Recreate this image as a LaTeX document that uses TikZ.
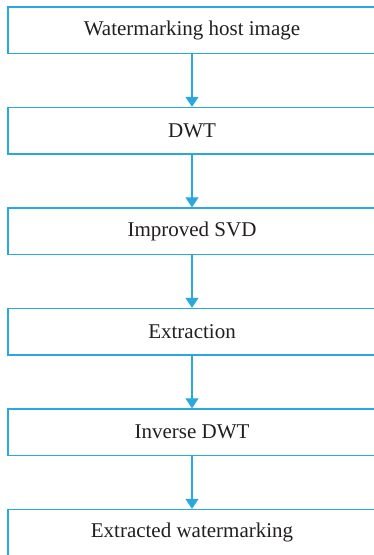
\documentclass[tikz,border=0pt]{standalone}
\usepackage{fontspec}
\setmainfont{Liberation Serif}
\usetikzlibrary{arrows.meta}

\definecolor{flowblue}{RGB}{41,168,224}
\definecolor{flowtext}{RGB}{35,31,32}

\begin{document}
\begin{tikzpicture}[x=1pt,y=-1pt,
    stage/.style={draw=flowblue,line width=1.4pt,fill=white,text=flowtext,
      minimum width=368pt,minimum height=46.5pt,inner sep=0pt,
      font=\fontsize{21}{25}\selectfont},
    flow/.style={draw=flowblue,line width=1.3pt,-{Triangle[width=13pt,length=10pt]}}]
      \useasboundingbox (0,0) rectangle (374,555);
      \draw
        (192, 30.25) node[stage] (host){Watermarking host image}
        (192, 130.75) node[stage] (dwt){DWT}
        (192, 231.25) node[stage] (svd){Improved SVD}
        (192, 331.75) node[stage] (extr){Extraction}
        (192, 432.25) node[stage] (idwt){Inverse DWT}
        (192, 532.75) node[stage] (wm){Extracted watermarking};
      \begin{scope}[flow]
        \draw (host) -- (dwt);
        \draw (dwt) -- (svd);
        \draw (svd) -- (extr);
        \draw (extr) -- (idwt);
        \draw (idwt) -- (wm);
      \end{scope}
    \end{tikzpicture}
\end{document}
